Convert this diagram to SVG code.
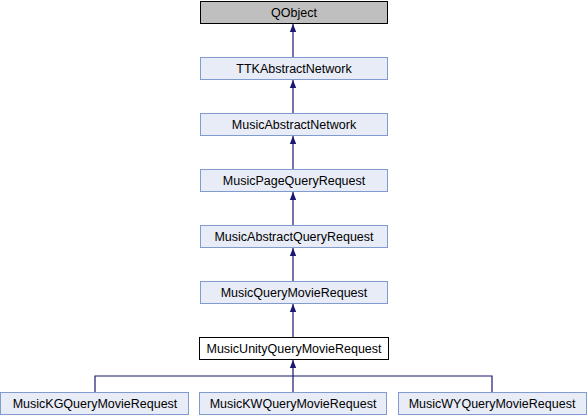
<svg xmlns="http://www.w3.org/2000/svg" width="587" height="416" viewBox="0 0 587 416">
<defs>
<style>
.n rect{fill:#e8ecf7;stroke:#7f9bd0;stroke-width:1}
.g rect{fill:#bfbfbf;stroke:#000}
.w rect{fill:#fff;stroke:#000}
text{font-family:"Liberation Sans",Arial,sans-serif;font-size:12.5px;fill:#000;text-anchor:middle}
.e{stroke:#191970;stroke-width:1.2;fill:none}
</style>
<marker id="a" viewBox="0 0 10 10" refX="10" refY="5" markerWidth="8" markerHeight="8" orient="auto" markerUnits="userSpaceOnUse">
<path d="M0,1 L10,5 L0,9 Z" fill="#191970"/>
</marker>
</defs>
<rect width="587" height="416" fill="#fff"/>
<g id="connectors">
<path class="e" d="M293,57 V24" marker-end="url(#a)"/>
<path class="e" d="M293,113 V80" marker-end="url(#a)"/>
<path class="e" d="M293,169 V136" marker-end="url(#a)"/>
<path class="e" d="M293,225 V192" marker-end="url(#a)"/>
<path class="e" d="M293,281 V248" marker-end="url(#a)"/>
<path class="e" d="M293,337 V304" marker-end="url(#a)"/>
<path class="e" d="M293,392 V360" marker-end="url(#a)"/>
<path class="e" d="M95,392 V376 H492 V392"/>
</g>
<g id="QObject" class="g"><rect x="200.5" y="1.5" width="187" height="22"/><text x="294" y="17">QObject</text></g>
<g id="TTKAbstractNetwork" class="n"><rect x="200.5" y="57.5" width="187" height="22"/><text x="294" y="73">TTKAbstractNetwork</text></g>
<g id="MusicAbstractNetwork" class="n"><rect x="200.5" y="113.5" width="187" height="22"/><text x="294" y="129">MusicAbstractNetwork</text></g>
<g id="MusicPageQueryRequest" class="n"><rect x="200.5" y="169.5" width="187" height="22"/><text x="294" y="185">MusicPageQueryRequest</text></g>
<g id="MusicAbstractQueryRequest" class="n"><rect x="200.5" y="225.5" width="187" height="22"/><text x="294" y="241">MusicAbstractQueryRequest</text></g>
<g id="MusicQueryMovieRequest" class="n"><rect x="200.5" y="281.5" width="187" height="22"/><text x="294" y="297">MusicQueryMovieRequest</text></g>
<g id="MusicUnityQueryMovieRequest" class="w"><rect x="199.5" y="337.5" width="189" height="22"/><text x="294" y="353">MusicUnityQueryMovieRequest</text></g>
<g id="MusicKGQueryMovieRequest" class="n"><rect x="0.5" y="392.5" width="188" height="22"/><text x="95" y="408">MusicKGQueryMovieRequest</text></g>
<g id="MusicKWQueryMovieRequest" class="n"><rect x="199.5" y="392.5" width="187" height="22"/><text x="293" y="408">MusicKWQueryMovieRequest</text></g>
<g id="MusicWYQueryMovieRequest" class="n"><rect x="398.5" y="392.5" width="188" height="22"/><text x="492" y="408">MusicWYQueryMovieRequest</text></g>
</svg>
